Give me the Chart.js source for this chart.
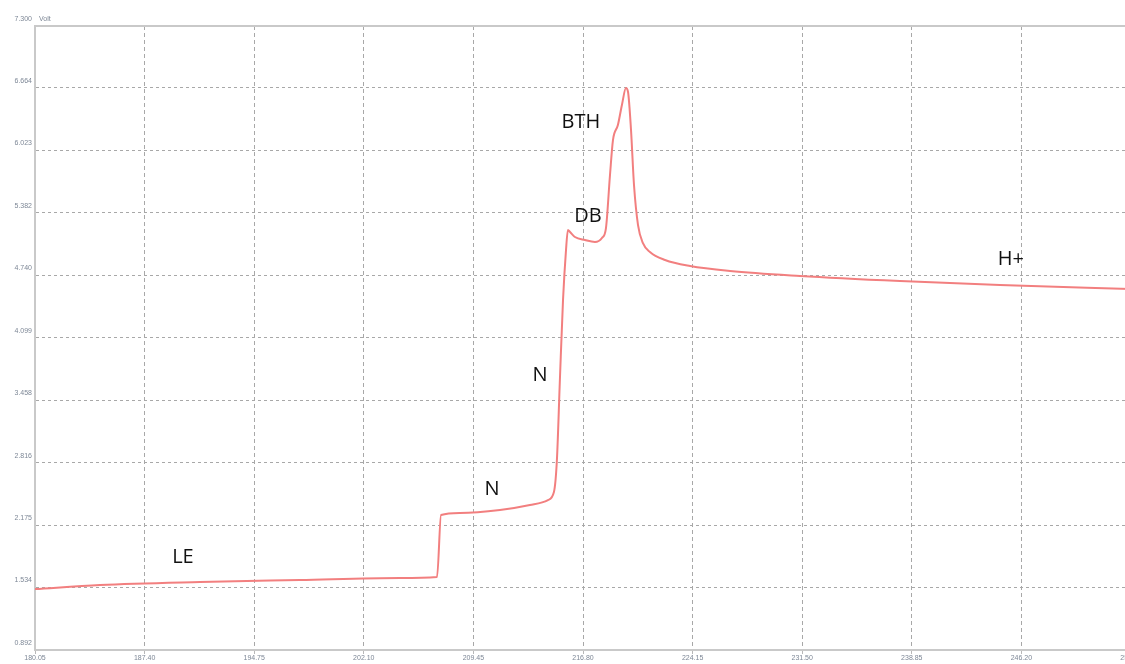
<!DOCTYPE html>
<html>
<head>
<meta charset="utf-8">
<script src="https://cdn.jsdelivr.net/npm/chart.js@4/dist/chart.umd.min.js"></script>
<style>
  html, body { margin: 0; padding: 0; background: #ffffff; overflow: hidden; }
  #wrap { position: relative; width: 1131px; height: 664px; }
</style>
</head>
<body>
<div id="wrap"><canvas id="trace"></canvas></div>
<script>
// Time axis (s) and voltage axis (V) tick values
const xTicks = [180.05, 187.40, 194.75, 202.10, 209.45, 216.80, 224.15, 231.50, 238.85, 246.20, 253.55];
const yTicks = [0.892, 1.534, 2.175, 2.816, 3.458, 4.099, 4.740, 5.382, 6.023, 6.664, 7.300];

// Recorded trace: time (s) and voltage (V)
const timeSec = [180.05, 184.41, 191.12, 197.82, 204.53, 207.01, 207.28, 208.55, 211.23, 213.24, 214.45,
                 214.85, 215.05, 215.25, 215.46, 215.66, 215.79, 215.93, 216.26, 216.93, 217.60, 218.07,
                 218.34, 218.61, 218.81, 219.14, 219.41, 219.68, 219.82, 220.02, 220.22, 220.49, 220.82,
                 221.29, 222.30, 223.98, 226.66, 231.35, 238.06, 244.76, 253.48];
const volts   = [1.518, 1.559, 1.590, 1.611, 1.631, 1.642, 2.278, 2.299, 2.330, 2.381, 2.432,
                 2.514, 2.843, 3.665, 4.486, 4.999, 5.205, 5.184, 5.133, 5.102, 5.082, 5.123,
                 5.225, 5.770, 6.129, 6.283, 6.489, 6.663, 6.622, 6.232, 5.667, 5.256, 5.071,
                 4.979, 4.897, 4.835, 4.784, 4.733, 4.681, 4.640, 4.599];

// Phase markers written on the trace
const markerText = ['LE', 'N', 'N', 'DB', 'BTH', 'H+'];
const markerTime = [189.97, 210.70, 213.92, 217.13, 216.66, 245.50];
const markerVolt = [1.847, 2.545, 3.716, 5.349, 6.314, 4.907];

const points = timeSec.map((t, i) => ({ x: t, y: volts[i] }));

const markerPlugin = {
  id: 'markers',
  afterDatasetsDraw(chart) {
    const { ctx, scales } = chart;
    ctx.save();
    ctx.font = '20px "Open Sans", "Liberation Sans", sans-serif';
    ctx.fillStyle = '#111111';
    ctx.textAlign = 'center';
    ctx.textBaseline = 'middle';
    markerText.forEach((txt, i) => {
      ctx.fillText(txt, scales.x.getPixelForValue(markerTime[i]), scales.y.getPixelForValue(markerVolt[i]));
    });
    ctx.restore();
  }
};

const framePlugin = {
  id: 'frame',
  afterDraw(chart) {
    const { ctx, chartArea } = chart;
    ctx.save();
    ctx.strokeStyle = '#c9c9c9';
    ctx.lineWidth = 2;
    ctx.beginPath();
    ctx.moveTo(chartArea.left, chartArea.top);
    ctx.lineTo(chartArea.right, chartArea.top);
    ctx.stroke();
    ctx.font = '7px "Liberation Sans", sans-serif';
    ctx.fillStyle = '#7d8796';
    ctx.textAlign = 'left';
    ctx.textBaseline = 'middle';
    ctx.fillText('Volt', chartArea.left + 4, chartArea.top - 7);
    ctx.restore();
  }
};

new Chart(document.getElementById('trace'), {
  type: 'line',
  data: {
    datasets: [{
      data: points,
      borderColor: '#f27f7f',
      borderWidth: 2,
      pointRadius: 0,
      cubicInterpolationMode: 'monotone',
      fill: false
    }]
  },
  options: {
    responsive: true,
    maintainAspectRatio: false,
    animation: false,
    layout: { padding: { top: 26, left: 0, right: 0, bottom: 0 } },
    plugins: { legend: { display: false }, tooltip: { enabled: false } },
    scales: {
      x: {
        type: 'linear',
        min: 180.05,
        max: 253.55,
        afterBuildTicks: s => { s.ticks = xTicks.map(v => ({ value: v })); },
        afterFit: s => { s.height = 14; s.paddingLeft = 0; s.paddingRight = 0; },
        border: { display: true, color: '#c9c9c9', width: 2, dash: [4, 3] },
        grid: { color: '#a8a8a8', lineWidth: 1, tickLength: 4, tickColor: '#b8b8b8' },
        ticks: {
          padding: 0,
          maxRotation: 0,
          autoSkip: false,
          font: { family: 'Liberation Sans', size: 7 },
          color: '#7d8796',
          callback: v => v.toFixed(2)
        }
      },
      y: {
        min: 0.892,
        max: 7.300,
        afterBuildTicks: s => { s.ticks = yTicks.map(v => ({ value: v })); },
        afterFit: s => { s.width = 35; s.paddingTop = 0; s.paddingBottom = 0; },
        border: { display: true, color: '#c9c9c9', width: 2, dash: [3, 3] },
        grid: { color: '#a8a8a8', lineWidth: 1, drawTicks: false },
        ticks: {
          padding: 3,
          labelOffset: -7,
          autoSkip: false,
          font: { family: 'Liberation Sans', size: 7 },
          color: '#7d8796',
          callback: v => v.toFixed(3)
        }
      }
    }
  },
  plugins: [markerPlugin, framePlugin]
});
</script>
</body>
</html>
